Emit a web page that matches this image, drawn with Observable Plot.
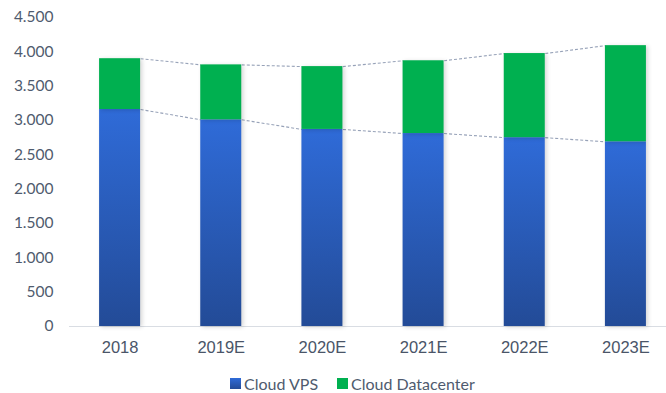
<!DOCTYPE html>
<html>
<head>
<meta charset="utf-8">
<script src="https://cdn.jsdelivr.net/npm/d3@7"></script>
<script src="https://cdn.jsdelivr.net/npm/@observablehq/plot@0.6"></script>
<style>
  html, body { margin: 0; padding: 0; background: #fff; }
  #chart { width: 666px; }
  #chart svg g[aria-label="rect"] { filter: drop-shadow(2px 1px 2px rgba(0,0,0,0.16)); }
  .legend { position: relative; height: 28px; font-family: Lato, "Noto Sans", sans-serif; font-size: 16px; color: #4f5b6e; }
  .legend span.item { position: absolute; top: 9px; display: flex; align-items: center; white-space: nowrap; }
  .legend span.sw { display: inline-block; width: 11px; height: 11px; margin-right: 3px; }
</style>
</head>
<body>
<div id="chart"></div>
<script>
const categories = ["2018", "2019E", "2020E", "2021E", "2022E", "2023E"];
const cloudVPS = [3160, 3010, 2870, 2810, 2750, 2690];
const cloudDatacenter = [740, 800, 915, 1060, 1225, 1400];
const yTicks = [0, 500, 1000, 1500, 2000, 2500, 3000, 3500, 4000, 4500];
const seriesNames = ["Cloud VPS", "Cloud Datacenter"];
const seriesColors = ["#2A5DBE", "#00B050"];

const hw = 0.2027; // half bar width in category units

const rows = categories.map((c, i) => ({
  i, c,
  vps: cloudVPS[i],
  total: cloudVPS[i] + cloudDatacenter[i]
}));

const links = [];
for (let i = 0; i < rows.length - 1; i++) {
  links.push({x1: i + hw, x2: i + 1 - hw, y1: rows[i].vps, y2: rows[i + 1].vps});
  links.push({x1: i + hw, x2: i + 1 - hw, y1: rows[i].total, y2: rows[i + 1].total});
}

const defs = () => {
  const d = d3.create("svg:defs");
  const g = d.append("linearGradient").attr("id", "blueGrad")
    .attr("x1", 0).attr("y1", 0).attr("x2", 0).attr("y2", 1);
  g.append("stop").attr("offset", "0%").attr("stop-color", "#2F6BD8");
  g.append("stop").attr("offset", "100%").attr("stop-color", "#234B97");
  return d.node();
};

const fmt = d => d3.format(",")(d).replace(/,/g, ".");

const plot = Plot.plot({
  width: 666,
  height: 365,
  marginTop: 17,
  marginBottom: 39,
  marginLeft: 69,
  marginRight: 0,
  style: { fontFamily: "Lato, 'Noto Sans', sans-serif", overflow: "visible" },
  x: { type: "linear", domain: [-0.5, 5.5], range: [69, 676], axis: null },
  y: { domain: [0, 4500], axis: null },
  marks: [
    defs,
    Plot.axisY({
      ticks: yTicks, tickFormat: fmt, tickSize: 0, tickPadding: 16,
      fontSize: 15.5, fill: "#4f5b6e", color: "#4f5b6e", label: null
    }),
    Plot.axisX({
      ticks: categories.map((c, i) => i), tickFormat: i => categories[i],
      tickSize: 0, tickPadding: 15, fontSize: 16.5, color: "#4a5568",
      fontFamily: "'Liberation Sans', Arial, sans-serif", label: null
    }),
    Plot.ruleY([0], { stroke: "#d9dde3", strokeWidth: 1.2 }),
    Plot.link(links, {
      x1: "x1", x2: "x2", y1: "y1", y2: "y2",
      stroke: "#97a2b8", strokeWidth: 1.1, strokeDasharray: "3,2"
    }),
    Plot.rectY(rows, { x1: d => d.i - hw, x2: d => d.i + hw, y1: 0, y2: "vps", fill: "url(#blueGrad)" }),
    Plot.rectY(rows, { x1: d => d.i - hw, x2: d => d.i + hw, y1: "vps", y2: "total", fill: seriesColors[1] })
  ]
});

const chart = document.getElementById("chart");
chart.appendChild(plot);

const legend = document.createElement("div");
legend.className = "legend";
const positions = [230, 337];
seriesNames.forEach((name, k) => {
  const item = document.createElement("span");
  item.className = "item";
  item.style.left = positions[k] + "px";
  const sw = document.createElement("span");
  sw.className = "sw";
  sw.style.background = k === 0 ? "linear-gradient(#2F6BD8, #234B97)" : seriesColors[k];
  item.appendChild(sw);
  item.appendChild(document.createTextNode(name));
  legend.appendChild(item);
});
chart.appendChild(legend);
</script>
</body>
</html>
